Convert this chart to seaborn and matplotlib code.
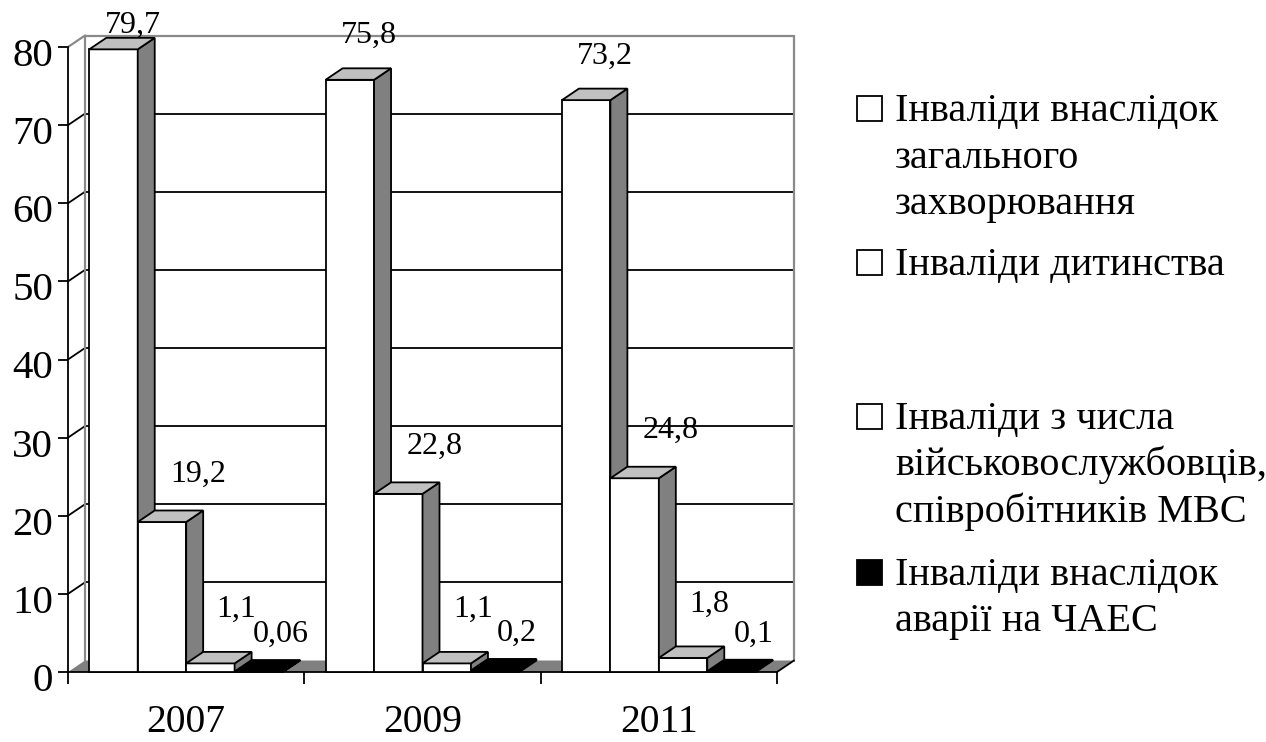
import matplotlib
matplotlib.use("Agg")
import matplotlib.pyplot as plt
from matplotlib.patches import Polygon, Rectangle
from matplotlib.transforms import ScaledTranslation
import seaborn as sns
import pandas as pd

# chart data
years = ["2007", "2009", "2011"]
groups = [
    "Інваліди внаслідок\nзагального\nзахворювання",
    "Інваліди дитинства",
    "Інваліди з числа\nвійськовослужбовців,\nспівробітників МВС",
    "Інваліди внаслідок\nаварії на ЧАЕС",
]
general_disease = [79.7, 75.8, 73.2]
childhood = [19.2, 22.8, 24.8]
military = [1.1, 1.1, 1.8]
chernobyl = [0.06, 0.2, 0.1]
value_labels = [
    ["79,7", "75,8", "73,2"],
    ["19,2", "22,8", "24,8"],
    ["1,1", "1,1", "1,8"],
    ["0,06", "0,2", "0,1"],
]
y_ticks = [0, 10, 20, 30, 40, 50, 60, 70, 80]

series = [general_disease, childhood, military, chernobyl]
rows = []
for g, vals in zip(groups, series):
    for yr, v in zip(years, vals):
        rows.append({"year": yr, "group": g, "value": v})
df = pd.DataFrame(rows)

front_colors = ["white", "white", "white", "black"]
side_colors = ["#808080", "#808080", "#808080", "black"]
top_colors = ["#c0c0c0", "#c0c0c0", "#c0c0c0", "black"]
palette = dict(zip(groups, front_colors))

sns.set_theme(style="white")
plt.rcParams["font.family"] = ["Liberation Serif", "DejaVu Serif"]

W, H = 1266, 742
fig = plt.figure(figsize=(W / 100, H / 100), dpi=100)
ax = fig.add_axes([68 / W, 70 / H, 709 / W, 625 / H])

sns.barplot(data=df, x="year", y="value", hue="group", palette=palette,
            hue_order=groups, width=0.82, edgecolor="black", linewidth=1.3,
            legend=False, ax=ax, zorder=10)
ax.set_xlim(-0.5, 2.5)
ax.set_ylim(0, 80)
x0, x1 = ax.get_xlim()

# pixel depth of the fake 3d effect -> data units
p0 = ax.transData.transform((0, 0))
p1 = ax.transData.transform((1, 1))
px_x = p1[0] - p0[0]
px_y = p1[1] - p0[1]
dx = 17 / px_x
dy = 11.5 / px_y

# floor
ax.add_patch(Polygon([(x0, 0), (x1, 0), (x1 + dx, dy), (x0 + dx, dy)],
                     closed=True, facecolor="#808080", edgecolor="none",
                     zorder=2, clip_on=False))
ax.plot([x1, x1 + dx], [0, dy], color="black", lw=1.3, zorder=3, clip_on=False)

# back wall gridlines and left wall diagonals
for v in y_ticks[1:-1]:
    ax.plot([x0 + dx, x1 + dx], [v + dy, v + dy], color="black", lw=1.3,
            zorder=1, clip_on=False)
    ax.plot([x0, x0 + dx], [v, v + dy], color="black", lw=1.3,
            zorder=1, clip_on=False)
wall = dict(color="#8a8a8a", lw=1.6, zorder=1, clip_on=False)
ax.plot([x0, x0 + dx], [80, 80 + dy], **wall)
ax.plot([x0 + dx, x1 + dx], [80 + dy, 80 + dy], **wall)
ax.plot([x1 + dx, x1 + dx], [dy, 80 + dy], **wall)
ax.plot([x0 + dx, x0 + dx], [dy, 80 + dy], **wall)

# side and top faces for every bar, stacked left to right
bars = sorted([p for p in ax.patches if isinstance(p, Rectangle)
               and p.get_width() < 0.5], key=lambda p: p.get_x())
n_s = len(groups)
lab_dx = [19, 36, 26, 22]
lab_dy = [44, 48, 54, 37]
y_cap = ax.transData.inverted().transform((0, H - 25))[1]
for i, b in enumerate(bars):
    s = i % n_s
    yi = i // n_s
    bx, bw, bh = b.get_x(), b.get_width(), b.get_height()
    z = 10 + i * 3
    b.set_zorder(z)
    b.set_clip_on(False)
    side = Polygon([(bx + bw, 0), (bx + bw + dx, dy), (bx + bw + dx, bh + dy),
                    (bx + bw, bh)], closed=True, facecolor=side_colors[s],
                   edgecolor="black", lw=1.3, zorder=z + 1, clip_on=False)
    top = Polygon([(bx, bh), (bx + dx, bh + dy), (bx + bw + dx, bh + dy),
                   (bx + bw, bh)], closed=True, facecolor=top_colors[s],
                  edgecolor="black", lw=1.3, zorder=z + 2, clip_on=False)
    ax.add_patch(side)
    ax.add_patch(top)
    ly = min(bh + lab_dy[s] / px_y, y_cap)
    ax.text(bx + bw / 2 + lab_dx[s] / px_x, ly, value_labels[s][yi],
            ha="center", va="center", fontsize=23, color="black",
            zorder=100, clip_on=False)

# axes styling
for sp in ["top", "right"]:
    ax.spines[sp].set_visible(False)
for sp in ["left", "bottom"]:
    ax.spines[sp].set_color("black")
    ax.spines[sp].set_linewidth(1.3)
    ax.spines[sp].set_zorder(5)
ax.set_xlabel("")
ax.set_ylabel("")
ax.set_yticks(y_ticks)
ax.set_yticklabels([str(t) for t in y_ticks])
ax.tick_params(axis="y", direction="out", length=7.2, width=1.3, pad=3.5,
               labelsize=29.5, colors="black", left=True)
shift = ScaledTranslation(0, -5 / 100, fig.dpi_scale_trans)
for lbl in ax.get_yticklabels():
    lbl.set_transform(lbl.get_transform() + shift)
ax.set_xticks([0, 1, 2])
ax.set_xticklabels(years)
ax.set_xticks([-0.5, 0.5, 1.5, 2.5], minor=True)
ax.tick_params(axis="x", which="major", length=0, pad=23, labelsize=28.5,
               colors="black")
ax.tick_params(axis="x", which="minor", direction="out", length=8.6,
               width=1.3, color="black", bottom=True)
ax.grid(False)

# legend drawn as figure text with evenly spaced entries
leg_y = [108, 262, 416, 572]
line_step = 46.5
for g, c, yy in zip(groups, front_colors, leg_y):
    fig.patches.append(Rectangle((857 / W, (H - yy - 12.5) / H), 25 / W, 25 / H,
                                 transform=fig.transFigure, facecolor=c,
                                 edgecolor="black", lw=1.3))
    for k, line in enumerate(g.split("\n")):
        base = yy + 13 + k * line_step
        fig.text(895 / W, (H - base) / H, line, ha="left", va="baseline",
                 fontsize=29, color="black")

fig.savefig("out.png", dpi=100, facecolor="white")
